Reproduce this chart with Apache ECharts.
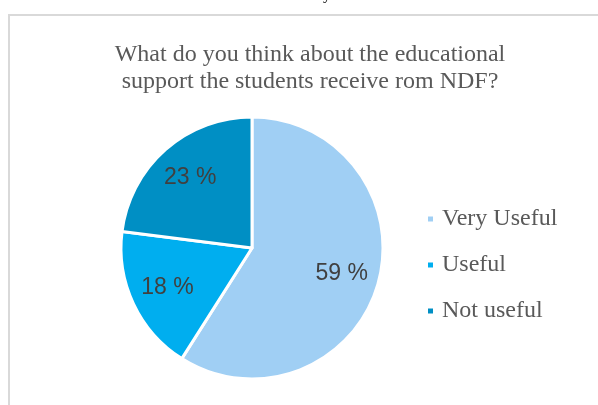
<!DOCTYPE html>
<html>
<head>
<meta charset="utf-8">
<script src="https://cdn.jsdelivr.net/npm/echarts@6/dist/echarts.min.js"></script>
<style>
  html, body { margin: 0; padding: 0; background: #ffffff; }
  #chart { width: 598px; height: 405px; }
</style>
</head>
<body>
<div id="chart"></div>
<script>
// Survey answers and their shares (percent)
const categories = ['Very Useful', 'Useful', 'Not useful'];
const shares = [59, 18, 23];
const sliceColors = ['#A0CFF4', '#00AEEF', '#008FC4'];
const titleLines = [
  'What do you think about the educational',
  'support the students receive rom NDF?'
];

const pieCenter = [252, 248];
const pieRadius = 131;

const pieData = categories.map((name, i) => ({
  name: name,
  value: shares[i],
  itemStyle: { color: sliceColors[i] }
}));

const chart = echarts.init(document.getElementById('chart'), null, { renderer: 'canvas' });

chart.setOption({
  animation: false,
  backgroundColor: '#ffffff',
  title: {
    text: titleLines.join('\n'),
    left: 305,
    top: 36,
    textAlign: 'center',
    textStyle: {
      fontFamily: '"Liberation Serif", "Times New Roman", serif',
      fontSize: 24,
      fontWeight: 'normal',
      color: '#595959',
      lineHeight: 27
    }
  },
  legend: {
    orient: 'vertical',
    left: 426,
    top: 207,
    padding: 0,
    itemWidth: 7,
    itemHeight: 7,
    itemGap: 22,
    icon: 'rect',
    selectedMode: false,
    data: categories.map((name, i) => ({ name: name, itemStyle: { color: sliceColors[i] } })),
    textStyle: {
      fontFamily: '"Liberation Serif", "Times New Roman", serif',
      fontSize: 24,
      color: '#595959',
      lineHeight: 22,
      padding: [0, 0, 0, 3]
    }
  },
  graphic: [
    {
      // frame of the chart area
      type: 'rect',
      silent: true,
      shape: { x: 9, y: 15, width: 700, height: 500 },
      style: { fill: 'none', stroke: '#D9D9D9', lineWidth: 2 }
    },
    {
      // tail of the heading line above the frame
      type: 'text',
      silent: true,
      left: 323,
      top: -13,
      style: {
        text: 'y',
        font: '16px "Liberation Serif", serif',
        fill: '#000000'
      }
    }
  ],
  series: [
    {
      type: 'pie',
      center: pieCenter,
      radius: pieRadius,
      startAngle: 90,
      clockwise: true,
      silent: true,
      label: { show: false },
      labelLine: { show: false },
      itemStyle: { borderColor: '#ffffff', borderWidth: 3 },
      data: pieData
    },
    {
      // ring used only to place the percentage labels
      type: 'pie',
      center: pieCenter,
      radius: [50, pieRadius],
      startAngle: 90,
      clockwise: true,
      silent: true,
      itemStyle: { color: 'rgba(0,0,0,0)' },
      label: {
        show: true,
        position: 'inside',
        formatter: '{c} %',
        fontFamily: '"Liberation Sans", Arial, sans-serif',
        fontSize: 23,
        color: '#404040'
      },
      labelLine: { show: false },
      data: categories.map((name, i) => ({ name: name, value: shares[i] }))
    }
  ]
});
</script>
</body>
</html>
